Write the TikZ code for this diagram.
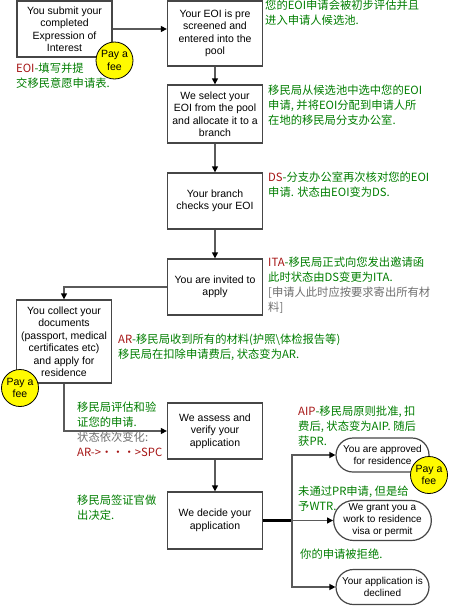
\documentclass[tikz,border=0pt]{standalone}
\usepackage{fontspec}
\setmainfont{Liberation Sans}
\newfontfamily\cjk{Noto Sans CJK SC}
\usepackage{tikz}
\usetikzlibrary{positioning, calc, arrows.meta, shapes.misc}

\definecolor{boxgray}{RGB}{70,70,70}
\definecolor{linegray}{RGB}{90,90,90}
\definecolor{notegreen}{RGB}{0,125,0}
\definecolor{notered}{RGB}{165,20,20}
\definecolor{notegray}{RGB}{110,110,110}
\definecolor{feeyellow}{RGB}{255,250,0}

\begin{document}
\begin{tikzpicture}[
        x=1pt, y=-1pt,
        box/.style={
            draw=boxgray,
            line width=1.3pt,
            fill=white,
            align=center,
            minimum width=95pt,
            inner sep=1pt,
            font=\fontsize{10.5}{12.5}\selectfont
        },
        endbox/.style={
            rounded rectangle,
            draw=boxgray,
            line width=1.2pt,
            fill=white,
            align=center,
            minimum width=95pt,
            inner sep=1pt,
            font=\fontsize{10}{12}\selectfont
        },
        fee/.style={
            circle,
            draw=black,
            line width=0.8pt,
            fill=feeyellow,
            minimum size=37pt,
            inner sep=0pt,
            align=center,
            font=\fontsize{10.5}{12.5}\selectfont
        },
        note/.style={
            anchor=north west,
            inner sep=0pt,
            align=left,
            text=notegreen,
            font=\cjk\fontsize{11.3}{15}\selectfont
        },
        link/.style={
            draw=linegray,
            line width=1.3pt,
            -{Triangle[length=6pt, width=6pt, color=black]}
        }
    ]

        \useasboundingbox (0,0) rectangle (449,608);

        % Main column of steps
        \node[box, minimum height=56pt] (submit) at (64.5, 29) {You submit your\\completed\\Expression of\\Interest};
        \node[box, minimum height=65pt] (pool) at (215, 33.5) {Your EOI is pre\\screened and\\entered into the\\pool};
        \node[box, minimum height=58pt] (select) at (215, 114) {We select your\\EOI from the pool\\and allocate it to a\\branch};
        \node[box, minimum height=56pt] (branch) at (215, 201) {Your branch\\checks your EOI};
        \node[box, minimum height=56pt] (invite) at (215, 287) {You are invited to\\apply};
        \node[box, minimum height=83pt] (collect) at (64, 341.5) {You collect your\\documents\\(passport, medical\\certificates etc)\\and apply for\\residence};
        \node[box, minimum height=56pt] (assess) at (215, 431) {We assess and\\verify your\\application};
        \node[box, minimum height=57pt] (decide) at (215, 520.5) {We decide your\\application};

        % Outcomes
        \node[endbox, minimum height=34pt] (approved) at (382.5, 455) {You are approved\\for residence};
        \node[endbox, minimum height=40pt] (grant) at (382.5, 520.5) {We grant you a\\work to residence\\visa or permit};
        \node[endbox, minimum height=35pt] (declined) at (382.5, 587) {Your application is\\declined};

        % Fees
        \node[fee] (fee1) at (114.5, 60.5) {Pay a\\fee};
        \node[fee] (fee2) at (20, 388) {Pay a\\fee};
        \node[fee] (fee3) at (429, 475) {Pay a\\fee};

        % Connectors
        \draw[link] (submit.east) -- (submit.east -| pool.west);
        \draw[link] (pool) -- (select);
        \draw[link] (select) -- (branch);
        \draw[link] (branch) -- (invite);
        \draw[link] (invite.west) -| (collect.north);
        \draw[link] (collect.south) |- (assess.west);
        \draw[link] (assess) -- (decide);
        \coordinate (split) at (292, 520.5);
        \draw[draw=black, line width=2.2pt] (decide.east) -- (split);
        \draw[link] (split) |- (approved.west);
        \draw[link] (split) -- (grant.west);
        \draw[link] (split) |- (declined.west);

        % Notes
        \node[note] (n-eoi) at (16, 63) {\textcolor{notered}{EOI}-填写并提\\交移民意愿申请表.};
        \node[note] (n-pool) at (265, 0) {您的EOI申请会被初步评估并且\\进入申请人候选池.};
        \node[note] (n-select) at (268, 85) {移民局从候选池中选中您的EOI\\申请, 并将EOI分配到申请人所\\在地的移民局分支办公室.};
        \node[note] (n-ds) at (268, 172) {\textcolor{notered}{DS}-分支办公室再次核对您的EOI\\申请. 状态由EOI变为DS.};
        \node[note] (n-ita) at (268, 257) {\textcolor{notered}{ITA}-移民局正式向您发出邀请函\\此时状态由DS变更为ITA.\\\textcolor{notegray}{[申请人此时应按要求寄出所有材}\\\textcolor{notegray}{料]}};
        \node[note] (n-ar) at (118, 334) {\textcolor{notered}{AR}-移民局收到所有的材料(护照\textbackslash 体检报告等)\\移民局在扣除申请费后, 状态变为AR.};
        \node[note] (n-assess) at (77, 402) {移民局评估和验\\证您的申请.\\\textcolor{notegray}{状态依次变化:}\\\textcolor{notered}{AR->···>SPC}};
        \node[note] (n-decide) at (77, 495) {移民局签证官做\\出决定.};
        \node[note] (n-aip) at (298, 406) {\textcolor{notered}{AIP}-移民局原则批准, 扣\\费后, 状态变为AIP. 随后\\获PR.};
        \node[note] (n-wtr) at (298, 486) {未通过PR申请, 但是给\\予WTR.};
        \node[note] (n-decl) at (300, 549) {你的申请被拒绝.};

    \end{tikzpicture}
\end{document}
